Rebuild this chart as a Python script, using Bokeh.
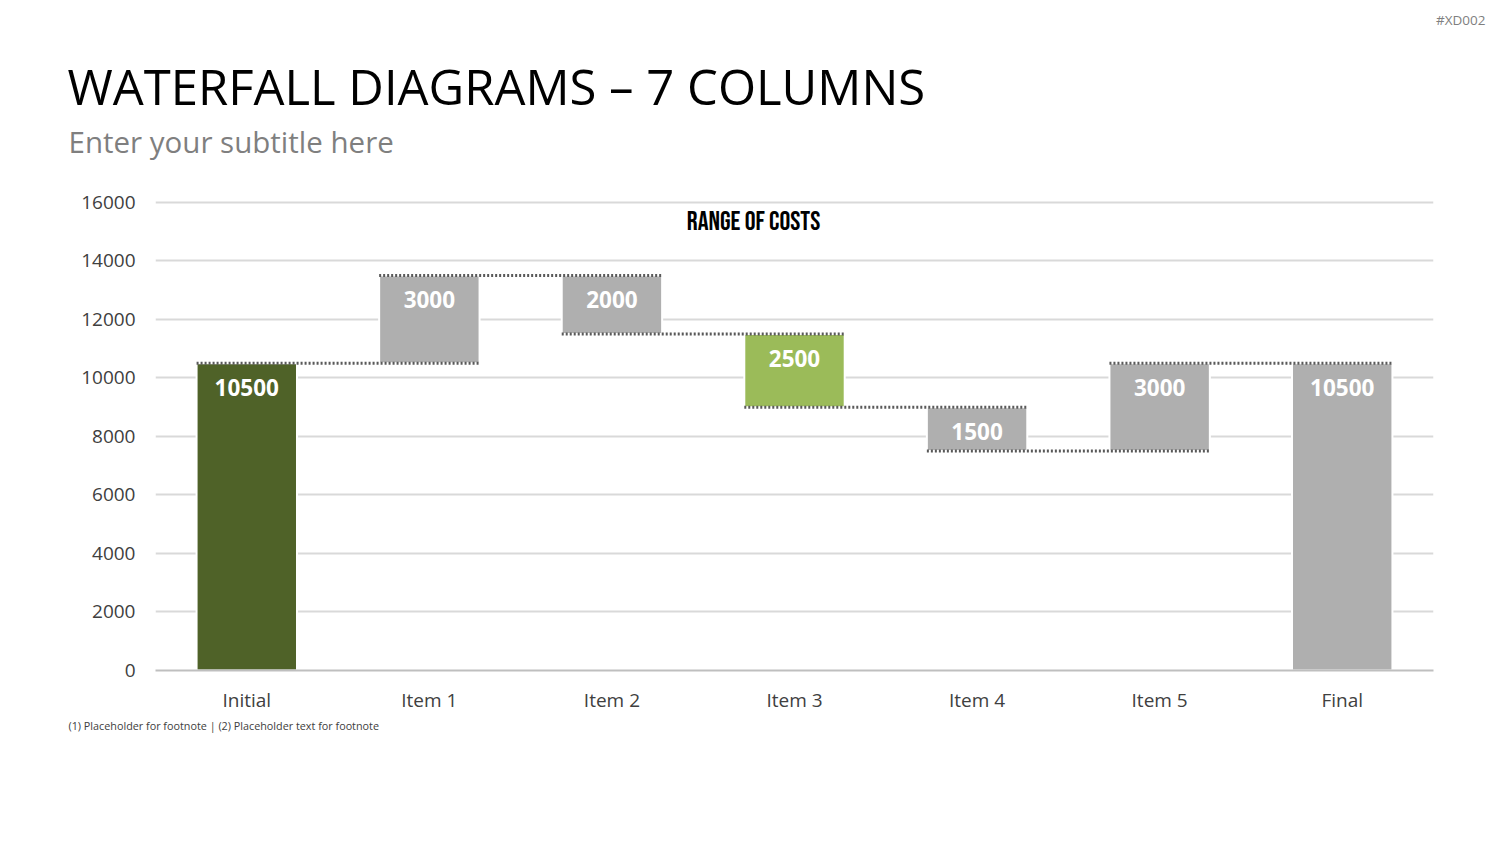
from bokeh.plotting import figure
from bokeh.models import Range1d, FixedTicker, Label, ColumnDataSource, Title
from bokeh.core.properties import value
from bokeh.embed import file_html
from bokeh.resources import INLINE

# ---- data ----
categories = ["Initial", "Item 1", "Item 2", "Item 3", "Item 4", "Item 5", "Final"]
changes = [10500, 3000, -2000, -2500, -1500, 3000, 10500]
is_total = [True, False, False, False, False, False, True]
bar_colors = ["#4F6228", "#AFAFAF", "#AFAFAF", "#9BBB59", "#AFAFAF", "#AFAFAF", "#AFAFAF"]
y_ticks = [0, 2000, 4000, 6000, 8000, 10000, 12000, 14000, 16000]

title_text = "WATERFALL DIAGRAMS \u2013 7 COLUMNS"
subtitle_text = "Enter your subtitle here"
chart_title = "RANGE OF COSTS"
footnote_text = "(1) Placeholder for footnote | (2) Placeholder text for footnote"
tag_text = "#XD002"

# ---- derive waterfall geometry ----
xs, bottoms, tops, labels, levels = [], [], [], [], []
running = 0
for i, (c, t) in enumerate(zip(changes, is_total)):
    if t:
        b, tp = 0, c
        running = c
    else:
        b = min(running, running + c)
        tp = max(running, running + c)
        running = running + c
    xs.append(i)
    bottoms.append(b)
    tops.append(tp)
    labels.append(str(abs(c)))
    levels.append(running)

W, H = 1500, 844
BW = 0.55

src = ColumnDataSource(dict(x=xs, bottom=bottoms, top=tops, color=bar_colors, label=labels))
p = figure(width=W, height=H, output_backend="svg", toolbar_location=None, title=None,
           x_range=Range1d(-0.5, 6.5), y_range=Range1d(0, 16205),
           min_border_left=155, min_border_right=67, min_border_top=196, min_border_bottom=174)
p.outline_line_color = None

p.vbar(x="x", bottom="bottom", top="top", width=BW, fill_color="color",
       line_color="white", line_width=2, source=src)

cx0, cx1, cy = [], [], []
for i in range(len(categories) - 1):
    cx0.append(i - BW / 2)
    cx1.append(i + 1 + BW / 2)
    cy.append(levels[i])
p.segment(x0=cx0, y0=cy, x1=cx1, y1=cy, line_color="#595959", line_width=3, line_dash="2 2")

p.text(x="x", y="top", text="label", source=src, text_color="white",
       text_font=value("Open Sans"), text_font_style="bold", text_font_size="22.5px",
       text_align="center", text_baseline="middle", y_offset=24)

p.xaxis.ticker = FixedTicker(ticks=list(range(len(categories))))
p.xaxis.major_label_overrides = {i: c for i, c in enumerate(categories)}
p.xaxis.axis_line_color = "#BFBFBF"
p.xaxis.axis_line_width = 2
p.xaxis.major_tick_line_color = None
p.xaxis.minor_tick_line_color = None
p.xaxis.major_label_text_font = "Open Sans"
p.xaxis.major_label_text_font_size = "19px"
p.xaxis.major_label_text_color = "#404040"
p.xaxis.major_label_standoff = 10

p.yaxis.ticker = FixedTicker(ticks=y_ticks)
p.yaxis.axis_line_color = None
p.yaxis.major_tick_line_color = None
p.yaxis.minor_tick_line_color = None
p.yaxis.major_label_text_font = "Open Sans"
p.yaxis.major_label_text_font_size = "19px"
p.yaxis.major_label_text_color = "#404040"
p.yaxis.major_label_standoff = 14

p.xgrid.grid_line_color = None
p.ygrid.ticker = FixedTicker(ticks=y_ticks[1:])
p.ygrid.grid_line_color = "#D9D9D9"
p.ygrid.grid_line_width = 2

# chart title inside the plot area (screen units relative to the frame)
p.add_layout(Label(x=598, y=449, x_units="screen", y_units="screen", text=chart_title,
                   text_font="Bebas Neue", text_font_size="27px", text_font_style="normal",
                   text_color="#000000", text_align="center", text_baseline="middle"))

# header titles, stacked outward from the frame
p.add_layout(Title(text=subtitle_text, align="left", offset=-87, text_font="Open Sans",
                   text_font_size="29.5px", text_font_style="normal", text_color="#7F7F7F",
                   vertical_align="bottom", standoff=68.6), "above")
p.add_layout(Title(text=title_text, align="left", offset=-88, text_font="Open Sans",
                   text_font_size="49px", text_font_style="normal", text_color="#000000",
                   vertical_align="bottom", standoff=-68.4), "above")
p.add_layout(Title(text=" ", align="left", text_font="Open Sans", text_font_size="10px",
                   vertical_align="bottom", standoff=31), "above")
p.add_layout(Title(text=tag_text, align="right", offset=-52, text_font="Open Sans",
                   text_font_size="13.5px", text_font_style="normal", text_color="#7F7F7F",
                   vertical_align="bottom", standoff=17.2), "above")

# footnote
p.add_layout(Title(text=footnote_text, align="left", offset=-87, text_font="Open Sans",
                   text_font_size="10.8px", text_font_style="normal", text_color="#404040",
                   vertical_align="top", standoff=4), "below")

open("out.html", "w").write(file_html(p, INLINE))
